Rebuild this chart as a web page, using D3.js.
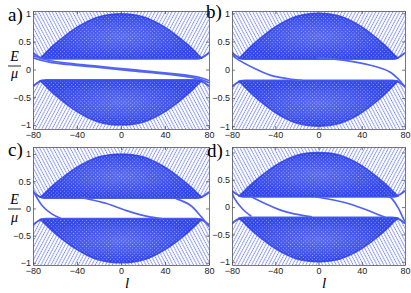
<!DOCTYPE html>
<html>
<head>
<meta charset="utf-8">
<script src="https://cdn.jsdelivr.net/npm/d3@7"></script>
<style>
  body { margin: 0; background: #fff; }
  .axis text { font-family: "Liberation Sans", Arial, sans-serif; font-size: 9px; fill: #222; }
  .axis path, .axis line { stroke: #555; stroke-width: 0.8; }
  .tag { font-family: "Liberation Serif", "Times New Roman", serif; font-size: 19px; }
  .sym { font-family: "Liberation Serif", "Times New Roman", serif; font-style: italic; }
</style>
</head>
<body>
<svg id="svg1" width="411" height="293"></svg>
<script>
const panelNames = ["a)", "b)", "c)", "d)"];
const lTicks = [-80, -40, 0, 40, 80];
const eTicks = [-1, -0.5, 0, 0.5, 1];

// bulk band: dome of the dense continuum (upper band, lower band is its mirror)
const domeL = [-74, -70, -65, -60, -50, -40, -30, -20, -10, 0, 10, 20, 30, 40, 50, 60, 65, 70, 74];
const domeE = [0.2, 0.27, 0.37, 0.46, 0.62, 0.76, 0.87, 0.95, 0.99, 1.0, 0.99, 0.95, 0.87, 0.76, 0.62, 0.46, 0.37, 0.27, 0.2];
// lower boundary of the upper bulk band (gap edge)
const edgeL = [-80, -76, -72, -68, 0, 68, 72, 76, 80];
const edgeE = [0.3, 0.24, 0.2, 0.19, 0.19, 0.19, 0.2, 0.24, 0.3];
const gapE = 0.19;

// in-gap states, [l, E/mu]
const statesA = [
  [[-80, 0.25], [-65, 0.16], [-22, 0.06], [8, 0.0], [44, -0.07], [71, -0.14], [80, -0.2]],
  [[-80, 0.21], [-65, 0.13], [-22, 0.04], [8, -0.02], [44, -0.09], [71, -0.17], [80, -0.24]]
];
const statesB = [
  [[-80, 0.27], [-76, 0.2], [-59, 0.02], [-44, -0.1], [-28, -0.16], [-15, -0.19]],
  [[-1, 0.21], [23, 0.17], [48, 0.08], [66, -0.04], [75, -0.19], [80, -0.31]]
];
const statesC = [
  [[-80, 0.33], [-72, 0.06], [-63, -0.1], [-55, -0.18]],
  [[-36, 0.2], [-31, 0.18], [-13, 0.09], [5, -0.04], [23, -0.14], [38, -0.19]],
  [[50, 0.18], [63, 0.06], [72, -0.13], [80, -0.33]]
];
const statesD = [
  [[-80, 0.27], [-78, 0.17], [-70, -0.04], [-62, -0.17]],
  [[-63, 0.2], [-51, 0.08], [-33, -0.07], [-21, -0.13], [-6, -0.18]],
  [[-3, 0.19], [25, 0.08], [43, -0.04], [58, -0.16], [62, -0.19]],
  [[64, 0.19], [67, 0.17], [73.6, -0.01], [78, -0.19], [80, -0.27]]
];

const svg1 = d3.select("#svg1");

// panel boxes (pixel) and E ranges
const panels = [
  {name: panelNames[0], box: [33, 209, 11, 129], ylo: -1.07, yhi: 1.05, states: statesA, tag: [8, 21]},
  {name: panelNames[1], box: [232, 405, 11, 129], ylo: -1.05, yhi: 1.04, states: statesB, tag: [206, 18]},
  {name: panelNames[2], box: [33, 209, 147, 265], ylo: -1.04, yhi: 1.13, states: statesC, tag: [8, 156]},
  {name: panelNames[3], box: [232, 405, 147, 265], ylo: -1.06, yhi: 1.10, states: statesD, tag: [207, 157]}
];

const defs = svg1.append("defs");

// thin dotted line textures for the outer parts of the bands
function hatch(id, angle) {
  const p = defs.append("pattern").attr("id", id)
    .attr("patternUnits", "userSpaceOnUse")
    .attr("width", 3).attr("height", 2)
    .attr("patternTransform", `rotate(${angle})`);
  p.append("rect").attr("x", 1).attr("width", 0.9).attr("height", 1.5).attr("fill", "#6677f2");
}
hatch("wingBack", -28);
hatch("wingFwd", 28);

// dense crossing lines inside the dome
const dp = defs.append("pattern").attr("id", "dome")
  .attr("patternUnits", "userSpaceOnUse")
  .attr("width", 2.6).attr("height", 2.6)
  .attr("patternTransform", "rotate(45)");
dp.append("rect").attr("width", 2.6).attr("height", 2.6).attr("fill", "#3146e8");
dp.append("rect").attr("x", 0.9).attr("y", 0.9).attr("width", 0.9).attr("height", 0.9).attr("fill", "#fff").attr("opacity", 0.55);

// lighter core of the dome
const rg = defs.append("radialGradient").attr("id", "core").attr("cx", 0.5).attr("cy", 0.5).attr("r", 0.5);
rg.append("stop").attr("offset", 0).attr("stop-color", "#fff").attr("stop-opacity", 0.2);
rg.append("stop").attr("offset", 1).attr("stop-color", "#fff").attr("stop-opacity", 0);

const fmt = d => d < 0 ? "\u2212" + Math.abs(d) : String(d);

panels.forEach((p, i) => {
  const [x0, x1, y0, y1] = p.box;
  const x = d3.scaleLinear().domain([-80, 80]).range([x0, x1]);
  const y = d3.scaleLinear().domain([p.ylo, p.yhi]).range([y1, y0]);

  // clip regions: whole box, left half, right half
  const clips = [[x0, x1], [x0, x(0)], [x(0), x1]];
  clips.forEach((c, k) => {
    defs.append("clipPath").attr("id", `clip${i}_${k}`)
      .append("rect").attr("x", c[0]).attr("y", y0).attr("width", c[1] - c[0]).attr("height", y1 - y0);
  });

  const a = svg1.append("g").attr("clip-path", `url(#clip${i}_0)`);

  [1, -1].forEach(s => {
    const edge = edgeL.map((l, k) => [l, s * edgeE[k]]);
    const dome = domeL.map((l, k) => [l, s * domeE[k]]);

    const wing = d3.area()
      .x(d => x(d[0]))
      .y0(y(s * 2))
      .y1(d => y(d[1]))
      .curve(d3.curveMonotoneX);

    a.append("g").attr("clip-path", `url(#clip${i}_1)`)
      .append("path").datum(edge).attr("d", wing)
      .attr("fill", s > 0 ? "url(#wingBack)" : "url(#wingFwd)");
    a.append("g").attr("clip-path", `url(#clip${i}_2)`)
      .append("path").datum(edge).attr("d", wing)
      .attr("fill", s > 0 ? "url(#wingFwd)" : "url(#wingBack)");

    const domeArea = d3.area()
      .x(d => x(d[0]))
      .y0(y(s * gapE))
      .y1(d => y(d[1]))
      .curve(d3.curveCatmullRom);
    a.append("path").datum(dome).attr("d", domeArea).attr("fill", "#fff");
    a.append("path").datum(dome).attr("d", domeArea).attr("fill", "url(#dome)");
    a.append("path").datum(dome).attr("d", domeArea).attr("fill", "url(#core)");

    const line = d3.line().x(d => x(d[0])).y(d => y(d[1])).curve(d3.curveCatmullRom);
    a.append("path").datum(dome).attr("d", line)
      .attr("fill", "none").attr("stroke", "#2336e4").attr("stroke-width", 1.4).attr("opacity", 0.75);
    a.append("path").datum(edge).attr("d", line.curve(d3.curveMonotoneX))
      .attr("fill", "none").attr("stroke", "#3a4eea").attr("stroke-width", 2).attr("opacity", 0.9);
  });

  // in-gap states
  const stateLine = d3.line().x(d => x(d[0])).y(d => y(d[1])).curve(d3.curveCatmullRom);
  a.selectAll(".state").data(p.states).enter().append("path")
    .attr("class", "state")
    .attr("d", stateLine)
    .attr("fill", "none")
    .attr("stroke", "#5163ef")
    .attr("stroke-width", 1.7);

  // box with inward ticks
  const ax = svg1.append("g").attr("class", "axis");
  ax.append("g").attr("transform", `translate(0,${y1})`)
    .call(d3.axisBottom(x).tickValues(lTicks).tickSize(-3).tickSizeOuter(0).tickPadding(3).tickFormat(fmt));
  ax.append("g").attr("transform", `translate(0,${y0})`)
    .call(d3.axisTop(x).tickValues(lTicks).tickSize(-3).tickSizeOuter(0).tickFormat(""));
  ax.append("g").attr("transform", `translate(${x0},0)`)
    .call(d3.axisLeft(y).tickValues(eTicks).tickSize(-3).tickSizeOuter(0).tickPadding(2).tickFormat(fmt));
  ax.append("g").attr("transform", `translate(${x1},0)`)
    .call(d3.axisRight(y).tickValues(eTicks).tickSize(-3).tickSizeOuter(0).tickFormat(""));

  svg1.append("text").attr("class", "tag")
    .attr("x", p.tag[0]).attr("y", p.tag[1]).text(p.name);
});

// E / mu fraction labels
[[61, 66, 78], [204, 209, 222]].forEach(r => {
  svg1.append("text").attr("class", "sym").attr("x", 14.5).attr("y", r[0])
    .attr("text-anchor", "middle").attr("font-size", 14).text("E");
  svg1.append("line").attr("x1", 8).attr("x2", 21).attr("y1", r[1]).attr("y2", r[1])
    .attr("stroke", "#111").attr("stroke-width", 0.9);
  svg1.append("text").attr("class", "sym").attr("x", 14.5).attr("y", r[2])
    .attr("text-anchor", "middle").attr("font-size", 14).text("\u03bc");
});

// l labels
[127, 324].forEach(px => {
  svg1.append("text").attr("class", "sym").attr("x", px).attr("y", 288)
    .attr("text-anchor", "middle").attr("font-size", 15).text("l");
});
</script>
</body>
</html>
